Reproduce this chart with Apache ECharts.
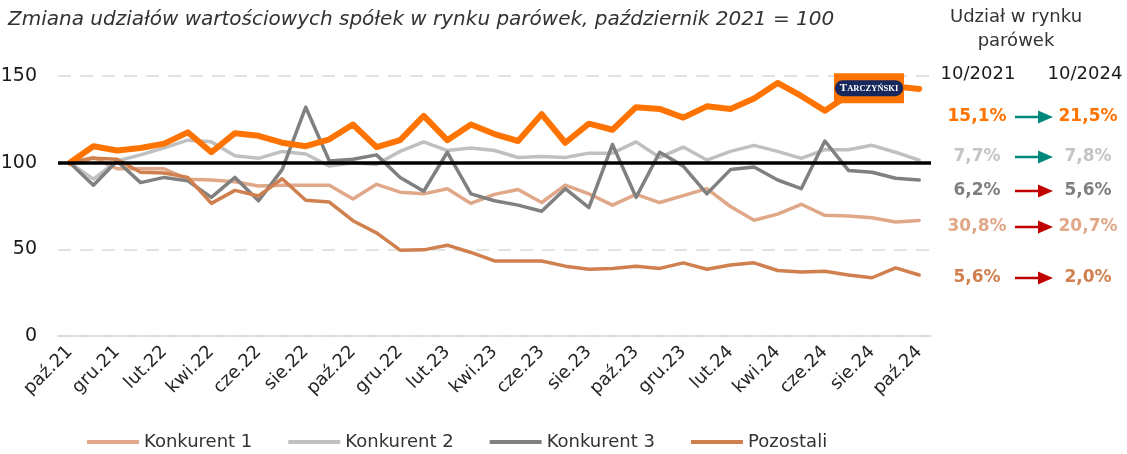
<!DOCTYPE html>
<html><head><meta charset="utf-8">
<script src="https://cdn.jsdelivr.net/npm/echarts@6/dist/echarts.min.js"></script>
<style>html,body{margin:0;padding:0;background:#fff}#c{width:1127px;height:454px}</style>
</head><body><div id="c"></div>
<script>
const categories = ['paź.21','lis.21','gru.21','sty.22','lut.22','mar.22','kwi.22','maj.22','cze.22','lip.22','sie.22','wrz.22',
  'paź.22','lis.22','gru.22','sty.23','lut.23','mar.23','kwi.23','maj.23','cze.23','lip.23','sie.23','wrz.23',
  'paź.23','lis.23','gru.23','sty.24','lut.24','mar.24','kwi.24','maj.24','cze.24','lip.24','sie.24','wrz.24','paź.24'];
const tarczynski = [100,109.5,107,108.5,111,117.5,106,117,115.5,111.5,109.5,113.5,122,109,113,127,113,122,116.5,112.5,128,111.5,122.5,119,132,131,126,132.5,131,137,146,138.5,130,139,143,144,142.5];
const konkurent1 = [100,103,96.5,96.5,96.5,90.5,90,89,86.5,87,87,87,79,87.5,83,82,85,76.5,81.7,84.5,77,87,82,75.5,81.7,77,81,85,74.7,66.8,70.3,76,69.6,69.2,68.2,65.8,66.7];
const konkurent2 = [100,90.5,101,104.5,108.5,113,112,104,102.5,106.5,105,98,100,99,106.5,112,107,108.5,107,103,103.5,103,105.5,105.5,112,103,109,101.5,106.5,110,106.5,102.5,107.5,107.5,110,106,101.5];
const konkurent3 = [100,87,101,88.5,91.5,89.5,80,91.5,78,96,132,101,102,104.5,91.5,83.5,106,82,78,75.5,72,85,74,110.5,80,106,98,82,96,97.5,90,85,112.5,95.5,94.5,91,90];
const pozostali = [100,102.5,102,94.5,94,91.5,76.5,84,80.8,90.7,78.3,77.3,66.5,59.5,49.5,49.7,52.4,48.2,43.3,43.3,43.3,40.3,38.5,39,40.3,39,42.2,38.5,41,42.2,37.8,36.9,37.4,35.2,33.6,39.3,35.2];
const seriesNames = ['Tarczyński','Konkurent 1','Konkurent 2','Konkurent 3','Pozostali'];
const baseValue = 100;
const yTicks = [0, 50, 100, 150];
const shareHeaders = ['10/2021', '10/2024'];
const share2021 = [15.1, 7.7, 6.2, 30.8, 5.6];
const share2024 = [21.5, 7.8, 5.6, 20.7, 2.0];

const colors = ['#ff7300', '#e0a888', '#c0c0c0', '#808080', '#d07f4e'];
const shareColors = ['#ff7300', '#c4c4c4', '#7f7f7f', '#e0a888', '#d07f4e'];
const rowY = [117, 157, 191, 227, 278];
const FONT = 'DejaVu Sans';

const fmt = v => v.toFixed(1).replace('.', ',') + '%';

const chart = echarts.init(document.getElementById('c'));

const lineSeries = (name, data, color, width) => ({
  name, type: 'line', data, showSymbol: false, symbol: 'none', smooth: false,
  lineStyle: { color, width, cap: 'round', join: 'round' }, itemStyle: { color },
  emphasis: { disabled: true }
});

const s1 = lineSeries(seriesNames[1], konkurent1, colors[1], 3.5);
const s2 = lineSeries(seriesNames[2], konkurent2, colors[2], 3.5);
const s3 = lineSeries(seriesNames[3], konkurent3, colors[3], 3.5);
const s4 = lineSeries(seriesNames[4], pozostali, colors[4], 3.5);
s4.markLine = {
  silent: true, symbol: 'none', label: { show: false },
  lineStyle: { color: '#000', width: 3.5, type: 'solid' },
  data: [{ yAxis: baseValue }]
};
const s0 = lineSeries(seriesNames[0], tarczynski, colors[0], 6);
s0.markPoint = {
  silent: true, symbol: 'rect', symbolSize: [70, 30], symbolOffset: [-3, 0],
  itemStyle: { color: '#ff7300' },
  label: {
    show: true, position: 'inside',
    formatter: '{a|T}{b|ARCZYŃSKI}',
    backgroundColor: '#17285c', borderRadius: 8, padding: [3, 5, 2, 5],
    rich: {
      a: { color: '#fff', fontSize: 11, fontFamily: 'Liberation Serif', fontWeight: 'bold' },
      b: { color: '#fff', fontSize: 8.5, fontFamily: 'Liberation Serif', fontWeight: 'bold' }
    }
  },
  data: [{ coord: [34, tarczynski[34]] }]
};

const graphics = [];
graphics.push({ type: 'text', x: 8, y: 20, style: { text: 'Zmiana udziałów wartościowych spółek w rynku parówek, październik 2021 = 100', font: 'italic 20px ' + FONT, fill: '#333', verticalAlign: 'middle' } });
graphics.push({ type: 'text', x: 1016, y: 17, style: { text: 'Udział w rynku', font: '18px ' + FONT, fill: '#333', align: 'center', verticalAlign: 'middle' } });
graphics.push({ type: 'text', x: 1016, y: 41, style: { text: 'parówek', font: '18px ' + FONT, fill: '#333', align: 'center', verticalAlign: 'middle' } });
graphics.push({ type: 'text', x: 978, y: 74, style: { text: shareHeaders[0], font: '18px ' + FONT, fill: '#1a1a1a', align: 'center', verticalAlign: 'middle' } });
graphics.push({ type: 'text', x: 1085, y: 74, style: { text: shareHeaders[1], font: '18px ' + FONT, fill: '#1a1a1a', align: 'center', verticalAlign: 'middle' } });
share2021.forEach((v, i) => {
  const y = rowY[i];
  const c = shareColors[i];
  const ac = share2024[i] > v ? '#00897b' : '#c00000';
  graphics.push({ type: 'text', x: 977, y, style: { text: fmt(v), font: 'bold 17px ' + FONT, fill: c, align: 'center', verticalAlign: 'middle' } });
  graphics.push({ type: 'text', x: 1088, y, style: { text: fmt(share2024[i]), font: 'bold 17px ' + FONT, fill: c, align: 'center', verticalAlign: 'middle' } });
  graphics.push({ type: 'line', shape: { x1: 1015, y1: y, x2: 1040, y2: y }, style: { stroke: ac, lineWidth: 2.5 } });
  graphics.push({ type: 'polygon', shape: { points: [[1038, y - 6.5], [1053, y], [1038, y + 6.5]] }, style: { fill: ac } });
});

chart.setOption({
  animation: false,
  backgroundColor: '#fff',
  textStyle: { fontFamily: FONT },
  grid: { left: 58, right: 196, top: 76, bottom: 118, containLabel: false, outerBoundsMode: 'none' },
  legend: {
    data: seriesNames.slice(1), left: 82, top: 428, icon: 'rect',
    itemWidth: 52, itemHeight: 4, itemGap: 36,
    textStyle: { fontSize: 18, color: '#333', fontFamily: FONT },
    selectedMode: false
  },
  xAxis: {
    type: 'category', data: categories, boundaryGap: true,
    axisTick: { show: false },
    axisLine: { lineStyle: { color: '#d9d9d9', width: 1.5 } },
    axisLabel: { interval: 1, rotate: 45, fontSize: 18, color: '#262626', margin: 13, fontFamily: FONT },
    splitLine: { show: false }
  },
  yAxis: {
    type: 'value', min: yTicks[0], max: yTicks[yTicks.length - 1], interval: yTicks[1] - yTicks[0],
    axisLine: { show: false }, axisTick: { show: false },
    axisLabel: { fontSize: 19, color: '#1a1a1a', margin: 21, fontFamily: FONT },
    splitLine: { lineStyle: { color: '#d9d9d9', width: 1.5, type: [13, 9] } }
  },
  series: [s1, s2, s3, s4, s0],
  graphic: graphics
});
</script>
</body></html>
